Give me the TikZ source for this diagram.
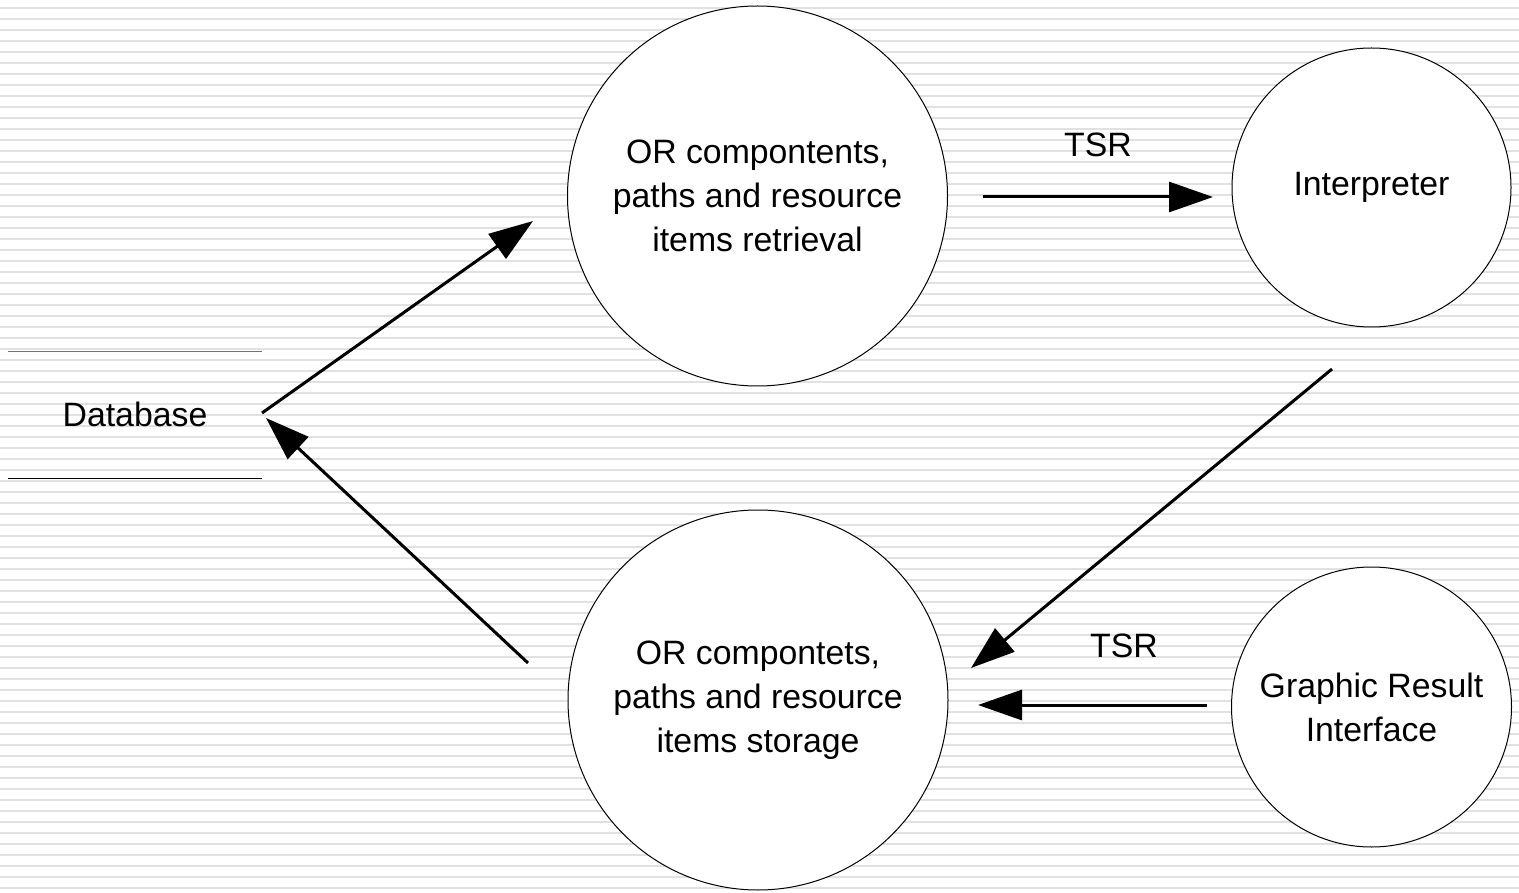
\documentclass[tikz,border=0pt]{standalone}
\usepackage{fontspec}
\setmainfont{Liberation Sans}
\usetikzlibrary{arrows.meta}
\definecolor{stripe}{RGB}{225,225,225}
\begin{document}
\begin{tikzpicture}[x=1pt,y=-1pt,
  bubble/.style={circle,draw=black,line width=1pt,fill=white,inner sep=0pt,
    align=center,font=\fontsize{33.8}{44}\selectfont},
  label/.style={inner sep=0pt,anchor=base,font=\fontsize{33.8}{44}\selectfont},
  flow/.style={line width=3pt,-{Triangle[length=44pt,width=30pt]}},
  store/.style={line width=1pt}]
\useasboundingbox (0,0) rectangle (1519,893);
% striped background
\foreach \k in {0,...,80}
  \fill[stripe] (0,{6.8+11*\k}) rectangle (1519,{9.4+11*\k});

% processes
\node[bubble,minimum size=380pt] (retr) at (757.5,196) {OR compontents,\\paths and resource\\items retrieval};
\node[bubble,minimum size=380pt] (stor) at (758,700) {OR compontets,\\paths and resource\\items storage};
\node[bubble,minimum size=279pt] (interp) at (1371.5,187.5) {Interpreter};
\node[bubble,minimum size=280pt] (gri) at (1371.5,707) {Graphic Result\\Interface};

% data store
\node[label] (db) at (135,426) {Database};
\draw[store,black!55] (8,352) -- (262,352);
\draw[store] (8,478) -- (262,478);

% connector end points
\coordinate (dbR) at (262,413);
\coordinate (dbIn) at (266,418);
\coordinate (retrIn) at (533,221);
\coordinate (storOut) at (528,663);
\coordinate (retrOut) at (983,197);
\coordinate (interpIn) at (1213,197);
\coordinate (interpOut) at (1332,369);
\coordinate (storIn) at (971,668);
\coordinate (griOut) at (1207,705);
\coordinate (storIn2) at (978,705);

\draw[flow] (dbR) -- (retrIn);
\draw[flow] (storOut) -- (dbIn);
\draw[flow] (retrOut) -- (interpIn);
\draw[flow] (interpOut) -- (storIn);
\draw[flow] (griOut) -- (storIn2);

\node[label] (tsr1) at (1098,157) {TSR};
\node[label] (tsr2) at (1124,657) {TSR};
\end{tikzpicture}
\end{document}
